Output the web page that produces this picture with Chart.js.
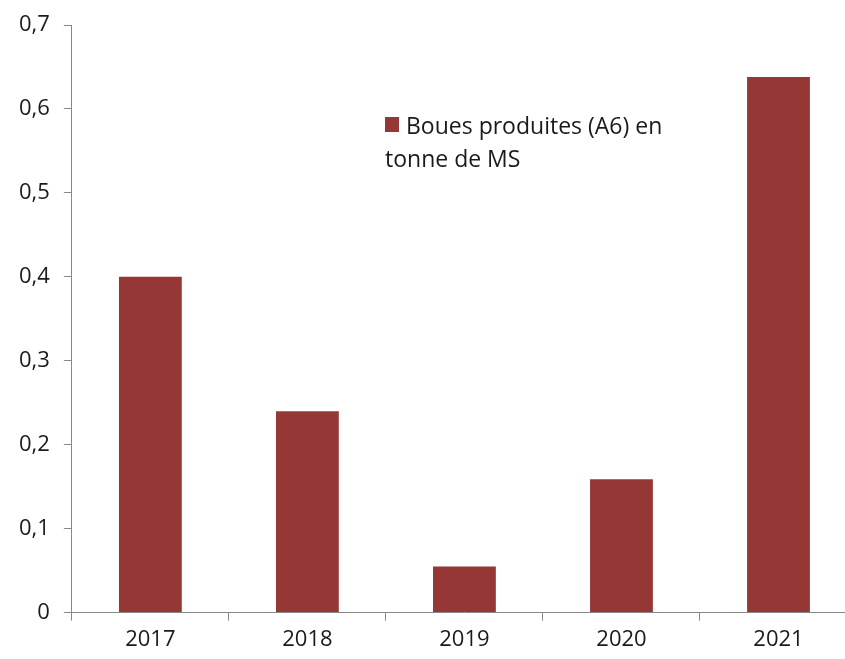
<!DOCTYPE html>
<html>
<head>
<meta charset="utf-8">
<script src="https://cdn.jsdelivr.net/npm/chart.js@4"></script>
<style>
  html, body { margin: 0; padding: 0; background: #fff; overflow: hidden; }
  #wrap { width: 857px; height: 659px; }
</style>
</head>
<body>
<div id="wrap"><canvas id="myChart"></canvas></div>
<script>
const years = ['2017', '2018', '2019', '2020', '2021'];
const boues = [0.40, 0.24, 0.055, 0.159, 0.638];
const yTicks = [0, 0.1, 0.2, 0.3, 0.4, 0.5, 0.6, 0.7];
const seriesName = ['Boues produites (A6) en', 'tonne de MS'];

const barColor = '#953735';
const axisColor = '#888888';
const fontFam = '"Open Sans", sans-serif';

// legend drawn inside the plot area, like the original
const innerLegend = {
  id: 'innerLegend',
  afterDraw(chart) {
    const ctx = chart.ctx;
    const x = 385, y = 117;
    ctx.save();
    ctx.fillStyle = barColor;
    ctx.fillRect(x, y, 14, 15);
    ctx.fillStyle = '#1a1a1a';
    ctx.font = '23px ' + fontFam;
    ctx.textBaseline = 'middle';
    ctx.fillText(seriesName[0], x + 21, y + 10);
    ctx.fillText(seriesName[1], x, y + 43);
    ctx.restore();
  }
};

new Chart(document.getElementById('myChart'), {
  type: 'bar',
  data: {
    labels: years,
    datasets: [{
      label: seriesName.join(' '),
      data: boues,
      backgroundColor: barColor,
      barPercentage: 0.4,
      categoryPercentage: 1.0
    }]
  },
  options: {
    responsive: true,
    maintainAspectRatio: false,
    animation: false,
    layout: { padding: { top: 24, right: 0, bottom: 0, left: 5 } },
    plugins: {
      legend: { display: false },
      tooltip: { enabled: false }
    },
    scales: {
      x: {
        grid: {
          offset: true,
          drawOnChartArea: false,
          tickLength: 8,
          color: axisColor
        },
        border: { color: axisColor },
        ticks: {
          color: '#1a1a1a',
          font: { family: fontFam, size: 22 },
          padding: 6
        }
      },
      y: {
        min: 0,
        max: 0.7,
        afterBuildTicks(axis) {
          axis.ticks = yTicks.map(v => ({ value: v }));
        },
        grid: {
          drawOnChartArea: false,
          tickLength: 8,
          color: axisColor
        },
        border: { color: axisColor },
        ticks: {
          color: '#1a1a1a',
          font: { family: fontFam, size: 22, lineHeight: 1 },
          padding: 14,
          callback: v => String(v).replace('.', ',')
        }
      }
    }
  },
  plugins: [innerLegend]
});
</script>
</body>
</html>
